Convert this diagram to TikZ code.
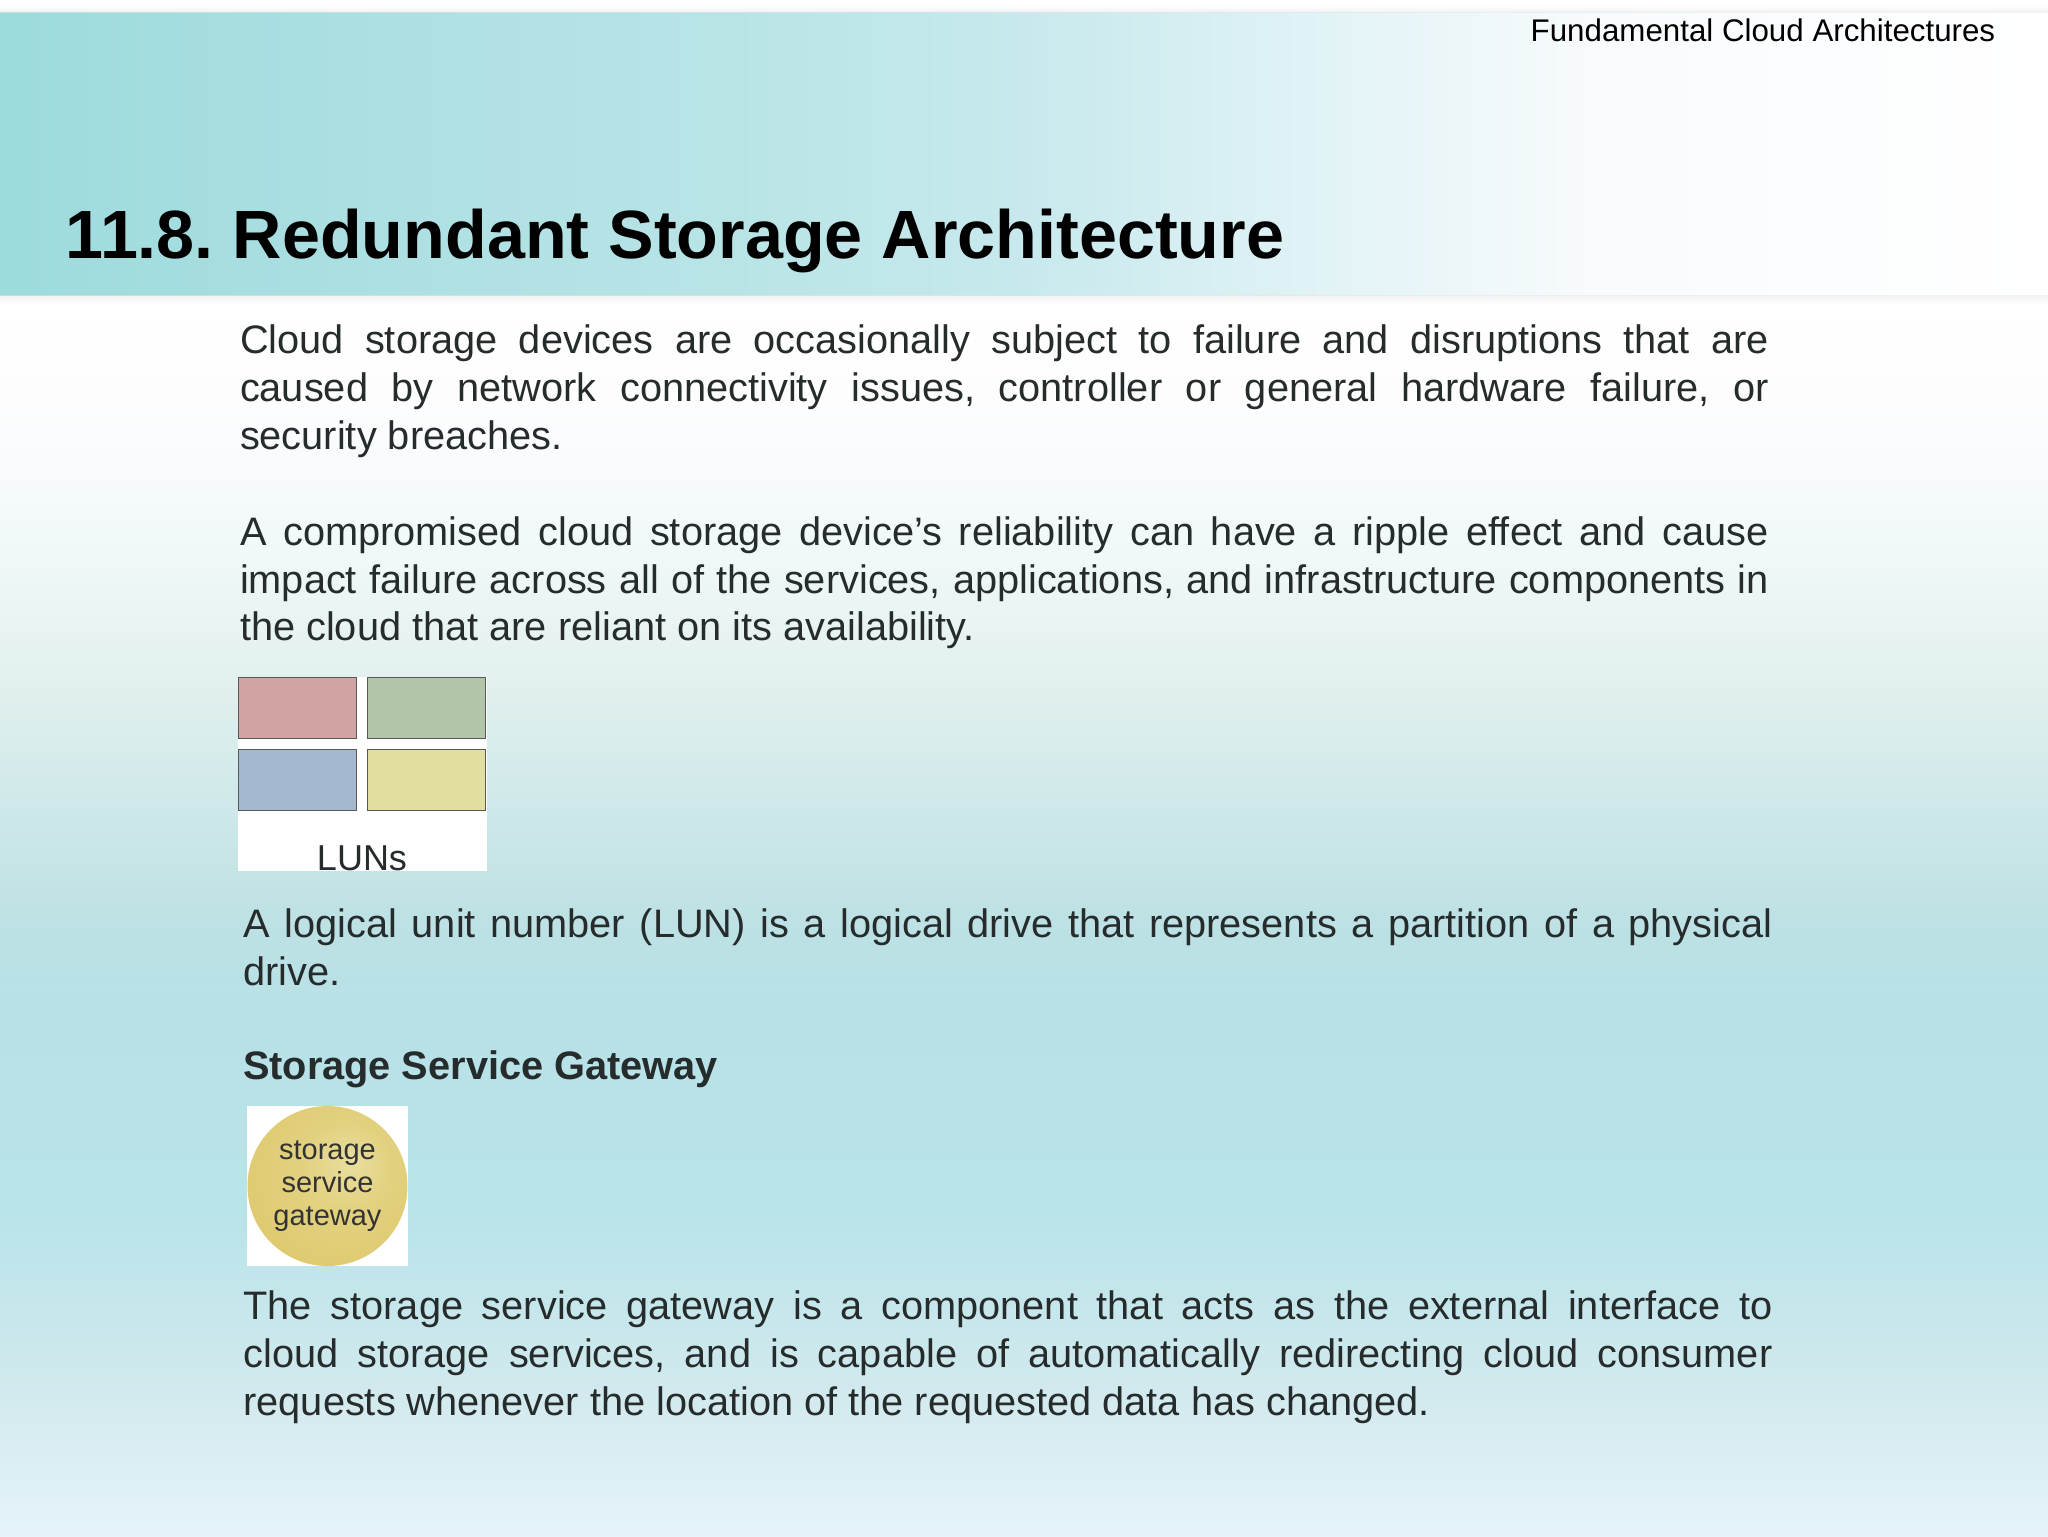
\documentclass[tikz,border=0pt]{standalone}
\usepackage{fontspec}
\setmainfont{Liberation Sans}
\usepackage{tikz}
\usetikzlibrary{positioning}
\definecolor{bodyink}{HTML}{262B2C}
\definecolor{lunred}{HTML}{D1A3A3}
\definecolor{lungreen}{HTML}{B2C5A8}
\definecolor{lunblue}{HTML}{A4B8CF}
\definecolor{lunyellow}{HTML}{E2DE9F}
\definecolor{goldhi}{HTML}{E9DE9F}
\definecolor{goldmid}{HTML}{E2D17F}
\definecolor{goldrim}{HTML}{DEC96E}
\definecolor{washA}{HTML}{E6F4F9}
\definecolor{washB}{HTML}{D3EAEE}
\definecolor{washC}{HTML}{B8E3E9}
\definecolor{washD}{HTML}{B8E1E6}
\definecolor{washE}{HTML}{BDE1E4}
\definecolor{washF}{HTML}{E0EFEE}
\definecolor{washG}{HTML}{F0F8F9}
\definecolor{washH}{HTML}{FDFDFE}
\definecolor{bandA}{HTML}{9DDBDC}
\definecolor{bandB}{HTML}{AEE0E3}
\definecolor{bandC}{HTML}{B8E4E6}
\definecolor{bandD}{HTML}{C7E9ED}
\definecolor{bandE}{HTML}{E2F3F6}
\definecolor{bandF}{HTML}{F8FBFD}
\pgfdeclareverticalshading{pagewash}{100bp}{
  color(0bp)=(washA);
  color(25bp)=(washA);
  color(30.4bp)=(washB);
  color(38.25bp)=(washC);
  color(46.65bp)=(washD);
  color(49.9bp)=(washE);
  color(58.95bp)=(washF);
  color(64.5bp)=(washG);
  color(70.95bp)=(washH);
  color(75bp)=(white);
  color(100bp)=(white)}
\pgfdeclarehorizontalshading{bandwash}{100bp}{
  color(0bp)=(bandA);
  color(25bp)=(bandA);
  color(35bp)=(bandB);
  color(42.5bp)=(bandC);
  color(50bp)=(bandD);
  color(57.5bp)=(bandE);
  color(64bp)=(bandF);
  color(75bp)=(white);
  color(100bp)=(white)}
\pgfdeclareradialshading{goldball}{\pgfpoint{8bp}{8bp}}{
  color(0bp)=(goldhi);
  color(14bp)=(goldmid);
  color(32bp)=(goldrim);
  color(50bp)=(goldrim)}
\begin{document}
\frenchspacing
\begin{tikzpicture}[x=0.5pt,y=-0.5pt,thick]
\tikzstyle{para}=[anchor=north west,inner sep=0pt,outer sep=0pt,text=bodyink,align=justify,font=\fontsize{19.87}{23.85}\selectfont]
\tikzstyle{lun}=[rectangle,draw=black!65,line width=0.7pt,anchor=north west,inner sep=0pt,minimum width=59pt,minimum height=30.5pt]
\useasboundingbox (0,0) rectangle (2048,1536);
% page and header band
\fill[white] (0,0) rectangle (2048,1536);
\shade[shading=pagewash] (0,300) rectangle (2048,1536);
\shade[shading=bandwash] (0,13) rectangle (2048,295);
\shade[top color=white,bottom color=black!12,opacity=.5] (0,6) rectangle (2048,13);
\shade[top color=black!10,bottom color=white,opacity=.5] (0,295) rectangle (2048,304);
\node[anchor=base east,inner sep=0pt,font=\fontsize{15.65}{18}\selectfont] (running) at (1996,41.5) {Fundamental Cloud Architectures};
\node[anchor=base west,inner sep=0pt,font=\fontsize{34.15}{40}\selectfont\bfseries] (title) at (65,258) {11.8. Redundant Storage Architecture};
% text blocks
\node[para,text width=764.5pt] (failure) at (240,325) {Cloud storage devices are occasionally subject to failure and disruptions that are\linebreak caused by network connectivity issues, controller or general hardware failure, or\linebreak security breaches.};
\node[para,text width=764.5pt] (ripple) at (240,516.5) {A compromised cloud storage device’s reliability can have a ripple effect and cause\linebreak impact failure across all of the services, applications, and infrastructure components in\linebreak the cloud that are reliant on its availability.};
% LUN picture
\fill[white] (238,677) rectangle (487,871);
\node[lun,fill=lunred] (lunA) at (238,677) {};
\node[lun,fill=lungreen] (lunB) at (367,677) {};
\node[lun,fill=lunblue] (lunC) at (238,749) {};
\node[lun,fill=lunyellow] (lunD) at (367,749) {};
\node[anchor=base,inner sep=0pt,text=bodyink,font=\fontsize{18}{20}\selectfont] (luns) at (362,870) {LUNs};
\node[para,text width=764.5pt] (logical) at (243.5,909) {A logical unit number (LUN) is a logical drive that represents a partition of a physical\linebreak drive.};
\node[para,font=\fontsize{19.87}{23.85}\selectfont\bfseries,align=left] (heading) at (243,1051) {Storage Service Gateway};
% gateway picture
\fill[white] (247,1106) rectangle (408,1266);
\shade[shading=goldball] (327.5,1186) circle (80);
\node[inner sep=0pt,align=center,text=black!80,font=\fontsize{14.5}{16.5}\selectfont] (gateway) at (327.5,1186) {storage\\service\\gateway};
\node[para,text width=764.5pt] (interface) at (243.5,1291) {The storage service gateway is a component that acts as the external interface to\linebreak cloud storage services, and is capable of automatically redirecting cloud consumer\linebreak requests whenever the location of the requested data has changed.};
\end{tikzpicture}
\end{document}
